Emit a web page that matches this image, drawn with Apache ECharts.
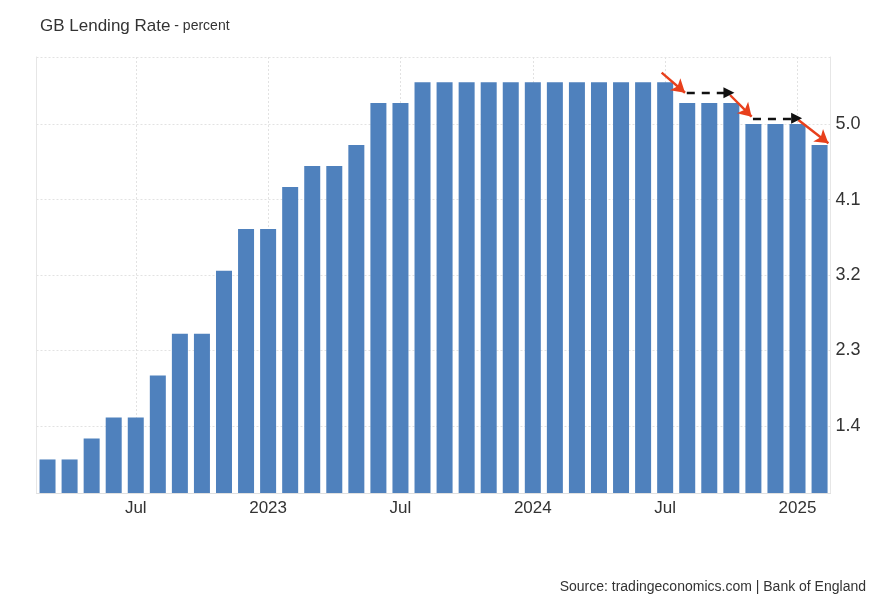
<!DOCTYPE html>
<html>
<head>
<meta charset="utf-8">
<script src="https://cdn.jsdelivr.net/npm/echarts@6/dist/echarts.min.js"></script>
<style>html,body{margin:0;padding:0;background:#fff;}#c{width:882px;height:603px;}</style>
</head>
<body>
<div id="c"></div>
<script>
// Months Mar 2022 .. Feb 2025
const categories = [
  '2022-03','2022-04','2022-05','2022-06','2022-07','2022-08','2022-09','2022-10','2022-11','2022-12',
  '2023-01','2023-02','2023-03','2023-04','2023-05','2023-06','2023-07','2023-08','2023-09','2023-10','2023-11','2023-12',
  '2024-01','2024-02','2024-03','2024-04','2024-05','2024-06','2024-07','2024-08','2024-09','2024-10','2024-11','2024-12',
  '2025-01','2025-02'
];
const rates = [
  1.0, 1.0, 1.25, 1.5, 1.5, 2.0, 2.5, 2.5, 3.25, 3.75,
  3.75, 4.25, 4.5, 4.5, 4.75, 5.25, 5.25, 5.5, 5.5, 5.5, 5.5, 5.5,
  5.5, 5.5, 5.5, 5.5, 5.5, 5.5, 5.5, 5.25, 5.25, 5.25, 5.0, 5.0,
  5.0, 4.75
];
const xTickLabels = {'2022-07':'Jul','2023-01':'2023','2023-07':'Jul','2024-01':'2024','2024-07':'Jul','2025-01':'2025'};
const yTickValues = [1.4, 2.3, 3.2, 4.1, 5.0];
// annotation arrows: [x index start, y start, x index end, y end]
const redArrows = [[27.84,5.613,28.90,5.374],[30.94,5.347,31.92,5.088],[34.04,5.049,35.40,4.771]];
const blackArrows = [[28.98,5.374,30.89,5.374],[31.98,5.069,33.96,5.069]];

const labelIdx = categories.map((c,i)=> xTickLabels[c] ? i : -1).filter(i=>i>=0);
const FONT = '"Liberation Sans", Arial, Helvetica, sans-serif';

const chart = echarts.init(document.getElementById('c'), null, {renderer:'canvas'});
const markData = [];
redArrows.forEach(a => markData.push([
  {coord:[a[0],a[1]], symbol:'none', lineStyle:{color:'#e8401c', width:2.4, type:'solid'}},
  {coord:[a[2],a[3]], symbol:'arrow', symbolSize:[12,13]}
]));
blackArrows.forEach(a => markData.push([
  {coord:[a[0],a[1]], symbol:'none', lineStyle:{color:'#111', width:2.4, type:[8,7]}},
  {coord:[a[2],a[3]], symbol:'triangle', symbolSize:[11,11]}
]));

chart.setOption({
  animation:false,
  backgroundColor:'#fff',
  textStyle:{fontFamily:FONT},
  title:[
    {text:'{a|GB Lending Rate}{b| - percent}', left:35, top:13,
     textStyle:{fontWeight:'normal', rich:{a:{fontSize:17,color:'#333',fontFamily:FONT,fontWeight:'normal'},b:{fontSize:14,color:'#333',fontFamily:FONT,fontWeight:'normal'}}}},
    {text:'Source: tradingeconomics.com | Bank of England', right:11, top:575,
     textStyle:{fontSize:14,color:'#333',fontWeight:'normal',fontFamily:FONT}}
  ],
  grid:{left:36.5, right:51.4, top:57, bottom:110, containLabel:false},
  xAxis:[
    {type:'category', data:categories, boundaryGap:true,
     axisLine:{show:true, onZero:false, lineStyle:{color:'#e0e0e0', width:1}},
     axisTick:{show:false},
     splitLine:{show:false},
     axisLabel:{interval:(i)=>labelIdx.indexOf(i)>=0, formatter:(v)=>xTickLabels[v]||'',
       fontSize:17, color:'#333', margin:7, fontFamily:FONT}},
    {type:'value', min:-0.5, max:35.5, show:true,
     axisLine:{show:false, onZero:false}, axisLabel:{show:false},
     axisTick:{show:false, customValues:labelIdx},
     splitLine:{show:true, lineStyle:{color:'#e2e2e2', type:[2,2], width:1}}}
  ],
  yAxis:[
    {type:'value', position:'right', min:0.6, max:5.8,
     axisLine:{show:true, onZero:false, lineStyle:{color:'#e6e6e6'}},
     axisTick:{show:false, customValues:yTickValues.concat([5.8])},
     axisLabel:{customValues:yTickValues, formatter:(v)=>v.toFixed(1), fontSize:18, color:'#333', margin:5, fontFamily:FONT},
     splitLine:{show:true, lineStyle:{color:'#e2e2e2', type:[2,2], width:1}}},
    {type:'value', position:'left', min:0.6, max:5.8,
     axisLine:{show:true, onZero:false, lineStyle:{color:'#e6e6e6'}},
     axisTick:{show:false}, axisLabel:{show:false}, splitLine:{show:false}}
  ],
  series:[
    {type:'bar', xAxisIndex:0, yAxisIndex:0, data:rates, barWidth:16,
     itemStyle:{color:'#4f81bd'}, emphasis:{disabled:true}},
    {type:'line', xAxisIndex:1, yAxisIndex:0, data:[], silent:true,
     markLine:{silent:true, animation:false, label:{show:false}, emphasis:{disabled:true},
       symbol:['none','arrow'], data:markData}}
  ]
});
</script>
</body>
</html>
